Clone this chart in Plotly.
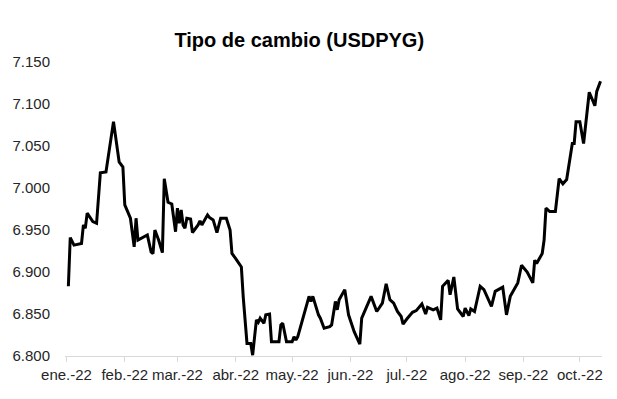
import plotly.graph_objects as go

dates = [
    "2022-01-02", "2022-01-03", "2022-01-05", "2022-01-09", "2022-01-10", "2022-01-11", "2022-01-12",
    "2022-01-15", "2022-01-17", "2022-01-19", "2022-01-22", "2022-01-26", "2022-01-29", "2022-01-31",
    "2022-02-01", "2022-02-04", "2022-02-06", "2022-02-07", "2022-02-08", "2022-02-11", "2022-02-13",
    "2022-02-15", "2022-02-16", "2022-02-17", "2022-02-19", "2022-02-21", "2022-02-22", "2022-02-24",
    "2022-02-26", "2022-02-28", "2022-03-01", "2022-03-02", "2022-03-03", "2022-03-04", "2022-03-05",
    "2022-03-06", "2022-03-08", "2022-03-09", "2022-03-11", "2022-03-12", "2022-03-13", "2022-03-14",
    "2022-03-17", "2022-03-18", "2022-03-20", "2022-03-22", "2022-03-24", "2022-03-26", "2022-03-27",
    "2022-03-29", "2022-03-30", "2022-04-01", "2022-04-04", "2022-04-05", "2022-04-07", "2022-04-09",
    "2022-04-10", "2022-04-12", "2022-04-13", "2022-04-14", "2022-04-16", "2022-04-17", "2022-04-19",
    "2022-04-20", "2022-04-22", "2022-04-24", "2022-04-25", "2022-04-26", "2022-04-28", "2022-05-01",
    "2022-05-02", "2022-05-03", "2022-05-04", "2022-05-08", "2022-05-09", "2022-05-10", "2022-05-11",
    "2022-05-12", "2022-05-15", "2022-05-16", "2022-05-18", "2022-05-21", "2022-05-22", "2022-05-24",
    "2022-05-25", "2022-05-26", "2022-05-29", "2022-05-30", "2022-05-31", "2022-06-03", "2022-06-06",
    "2022-06-07", "2022-06-09", "2022-06-12", "2022-06-15", "2022-06-18", "2022-06-20", "2022-06-22",
    "2022-06-24", "2022-06-26", "2022-06-28", "2022-06-29", "2022-07-01", "2022-07-04", "2022-07-06",
    "2022-07-09", "2022-07-11", "2022-07-12", "2022-07-15", "2022-07-17", "2022-07-19", "2022-07-20",
    "2022-07-23", "2022-07-24", "2022-07-26", "2022-07-27", "2022-07-28", "2022-07-31", "2022-08-01",
    "2022-08-03", "2022-08-04", "2022-08-06", "2022-08-09", "2022-08-11", "2022-08-15", "2022-08-17",
    "2022-08-21", "2022-08-23", "2022-08-25", "2022-08-29", "2022-08-31", "2022-09-03", "2022-09-06",
    "2022-09-07", "2022-09-08", "2022-09-11", "2022-09-12", "2022-09-13", "2022-09-15", "2022-09-18",
    "2022-09-20", "2022-09-22", "2022-09-24", "2022-09-27", "2022-09-28", "2022-09-29", "2022-10-01",
    "2022-10-03", "2022-10-06", "2022-10-09", "2022-10-10", "2022-10-12",
]

usdpyg = [
    6883, 6941, 6932, 6934, 6956, 6952, 6970,
    6960, 6958, 7018, 7019, 7079, 7031, 7025,
    6980, 6964, 6930, 6964, 6938, 6942, 6944,
    6924, 6922, 6950, 6938, 6923, 7011, 6983,
    6981, 6948, 6976, 6958, 6974, 6956, 6952,
    6964, 6963, 6947, 6953, 6956, 6961, 6956,
    6968, 6965, 6962, 6947, 6964, 6964, 6964,
    6950, 6922, 6916, 6906, 6870, 6815, 6815,
    6801, 6843, 6840, 6845, 6839, 6849, 6850,
    6817, 6817, 6817, 6837, 6839, 6817, 6817,
    6823, 6819, 6823, 6855, 6863, 6871, 6865,
    6871, 6849, 6845, 6833, 6835, 6837, 6865,
    6855, 6867, 6879, 6861, 6849, 6829, 6814,
    6845, 6855, 6871, 6853, 6863, 6886, 6867,
    6863, 6853, 6847, 6838, 6844, 6852, 6854,
    6862, 6850, 6858, 6855, 6857, 6843, 6883,
    6890, 6873, 6894, 6874, 6856, 6847, 6857,
    6848, 6856, 6853, 6883, 6879, 6859, 6877,
    6882, 6849, 6871, 6887, 6908, 6900, 6887,
    6914, 6910, 6922, 6938, 6976, 6972, 6972,
    7011, 7005, 7010, 7053, 7053, 7079, 7079,
    7053, 7114, 7098, 7115, 7127,
]

month_ticks = ["2022-01-01", "2022-02-01", "2022-03-01", "2022-04-01", "2022-05-01",
               "2022-06-01", "2022-07-01", "2022-08-01", "2022-09-01", "2022-10-01"]
month_labels = ["ene.-22", "feb.-22", "mar.-22", "abr.-22", "may.-22",
                "jun.-22", "jul.-22", "ago.-22", "sep.-22", "oct.-22"]
y_ticks = [6800, 6850, 6900, 6950, 7000, 7050, 7100, 7150]

fig = go.Figure()
fig.add_trace(go.Scatter(
    x=dates, y=usdpyg, mode="lines",
    line=dict(color="#000000", width=3),
    showlegend=False,
))

font = "Liberation Sans, Arial, sans-serif"
fig.update_layout(
    width=617, height=399,
    margin=dict(l=65, r=15, t=62, b=43),
    paper_bgcolor="white", plot_bgcolor="white",
    separators=",.",
    font=dict(family=font, size=15, color="#262626"),
    title=dict(text="<b>Tipo de cambio (USDPYG)</b>", x=0.485, xanchor="center",
               y=0.9, yanchor="middle", yref="container",
               font=dict(family=font, size=20, color="#000000")),
)
fig.update_xaxes(
    type="date",
    range=["2021-12-31 05:00", "2022-10-12 19:00"],
    tickvals=month_ticks, ticktext=month_labels,
    showgrid=False, zeroline=False,
    showline=True, linecolor="#d9d9d9", linewidth=1,
    ticks="outside", ticklen=5, tickcolor="#d9d9d9",
    tickfont=dict(family=font, size=15, color="#262626"),
)
fig.update_yaxes(
    range=[6800, 7150],
    tickvals=y_ticks, tickformat=",.0f",
    showgrid=False, zeroline=False, showline=False,
    ticks="", ticklabelstandoff=14,
    tickfont=dict(family=font, size=15, color="#262626"),
)

fig.write_html("out.html")
